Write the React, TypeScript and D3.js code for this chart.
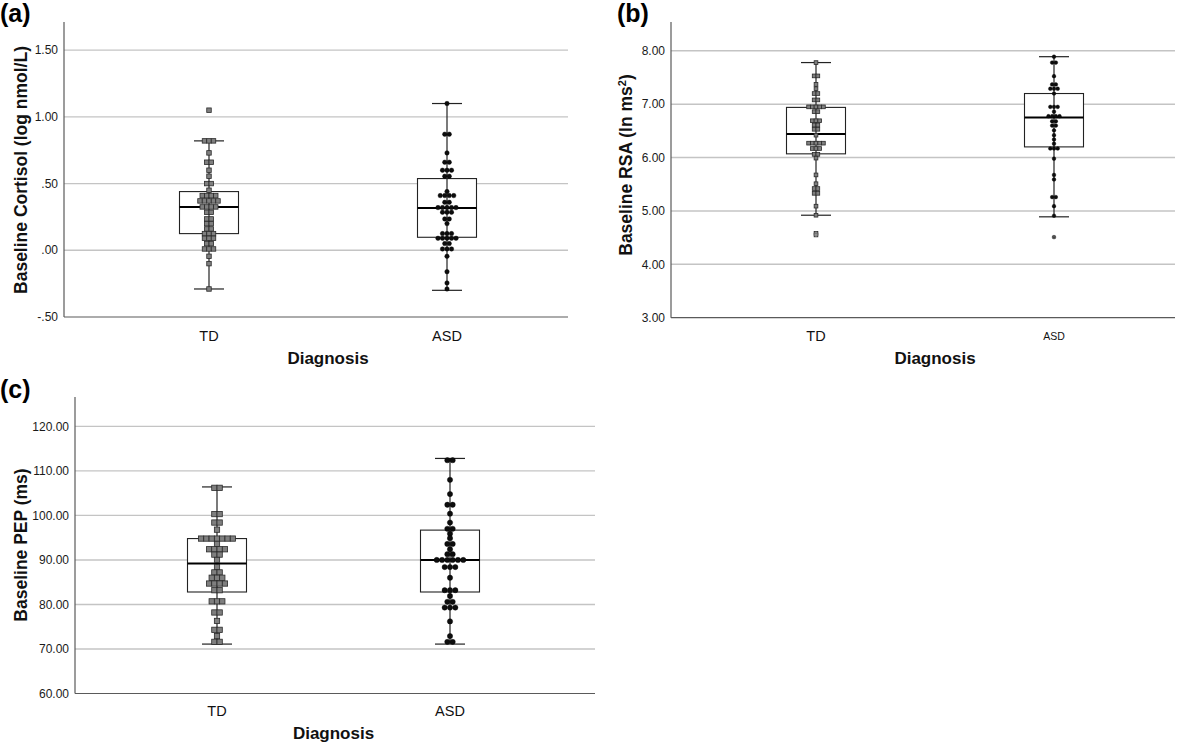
import React from "react";
import * as d3 from "d3";

const categories = ["TD", "ASD"];

// ---- Panel (a): Baseline cortisol ----
const cortisolTD = [
  1.05, 0.82, 0.82, 0.82, 0.73, 0.66, 0.66, 0.6, 0.555, 0.5, 0.5, 0.45,
  0.41, 0.41, 0.41, 0.41, 0.37, 0.37, 0.37, 0.37, 0.37, 0.325, 0.325, 0.325, 0.325,
  0.285, 0.285, 0.235, 0.235, 0.2, 0.2, 0.16, 0.16, 0.125, 0.125, 0.125,
  0.09, 0.09, 0.09, 0.05, 0.05, 0.01, 0.01, 0.01, -0.045, -0.1, -0.29,
];
const cortisolASD = [
  1.1, 0.87, 0.87, 0.73, 0.66, 0.66, 0.6, 0.6, 0.6, 0.555, 0.555, 0.44,
  0.41, 0.41, 0.41, 0.41, 0.36, 0.36, 0.32, 0.32, 0.32, 0.32, 0.32,
  0.285, 0.285, 0.285, 0.235, 0.235, 0.2, 0.125, 0.125, 0.125,
  0.09, 0.09, 0.09, 0.09, 0.09, 0.05, 0.05, 0.01, 0.01, 0.01, -0.045, -0.16, -0.245, -0.29,
];
// [low whisker, Q1, median, Q3, high whisker]
const cortisolBoxTD = [-0.29, 0.125, 0.325, 0.44, 0.82];
const cortisolBoxASD = [-0.3, 0.0975, 0.3175, 0.5375, 1.1];
const cortisolTicks = [-0.5, 0, 0.5, 1.0, 1.5];
const cortisolTickLabels = ["-.50", ".00", ".50", "1.00", "1.50"];

// ---- Panel (b): Baseline RSA ----
const rsaTD = [
  7.78, 7.53, 7.53, 7.37, 7.29, 7.2, 7.2, 7.08, 7.08, 6.95, 6.95, 6.95, 6.95, 6.95,
  6.86, 6.86, 6.69, 6.69, 6.69, 6.61, 6.61, 6.53, 6.53, 6.42,
  6.27, 6.27, 6.27, 6.27, 6.27, 6.17, 6.17, 6.17, 6.06, 6.06, 5.99,
  5.675, 5.51, 5.42, 5.42, 5.33, 5.33, 5.09, 4.92, 4.58, 4.55,
];
const rsaASD = [
  7.89, 7.78, 7.78, 7.525, 7.37, 7.37, 7.29, 7.29, 7.29, 7.2, 6.95, 6.95, 6.95, 6.86,
  6.775, 6.775, 6.775, 6.775, 6.68, 6.68, 6.6, 6.6, 6.51, 6.42, 6.34, 6.26,
  6.17, 6.17, 6.17, 5.98, 5.675, 5.59, 5.26, 5.26, 5.09, 4.91, 4.51,
];
const rsaBoxTD = [4.92, 6.07, 6.44, 6.94, 7.78];
const rsaBoxASD = [4.89, 6.2, 6.75, 7.2, 7.89];
const rsaTicks = [3, 4, 5, 6, 7, 8];
const rsaTickLabels = ["3.00", "4.00", "5.00", "6.00", "7.00", "8.00"];

// ---- Panel (c): Baseline PEP ----
const pepTD = [
  106.2, 106.2, 100.3, 100.3, 98.4, 98.4, 96.8,
  94.8, 94.8, 94.8, 94.8, 94.8, 94.8, 94.8, 93.6, 92.4, 92.4, 92.4, 92.4,
  91.2, 91.2, 90.0, 88.4, 87.2, 87.2, 86.0, 86.0, 86.0, 84.7, 84.7, 84.7, 84.7,
  83.2, 83.2, 80.7, 80.7, 80.7, 78.2, 78.2, 76.3, 74.3, 74.3, 72.9, 71.6, 71.6,
];
const pepASD = [
  112.4, 112.4, 108.0, 104.8, 102.4, 102.4, 100.4, 98.4, 97.0, 97.0, 95.9, 94.9,
  93.6, 93.6, 92.4, 91.3, 91.3, 90.0, 90.0, 90.0, 90.0, 90.0, 90.0, 88.4, 88.4, 88.4,
  86.0, 83.2, 83.2, 83.2, 81.9, 80.6, 80.6, 79.3, 79.3, 79.3, 76.2, 72.9, 71.6, 71.6,
];
const pepBoxTD = [71.1, 82.8, 89.2, 94.8, 106.4];
const pepBoxASD = [71.1, 82.8, 90.0, 96.7, 112.8];
const pepTicks = [60, 70, 80, 90, 100, 110, 120];
const pepTickLabels = ["60.00", "70.00", "80.00", "90.00", "100.00", "110.00", "120.00"];

const FONT = "'Liberation Sans', Arial, sans-serif";

type PanelProps = {
  letter: string;
  letterX: number;
  letterY: number;
  x0: number;
  x1: number;
  catRange: [number, number];
  yTop: number;
  yBottom: number;
  domain: [number, number];
  ticks: number[];
  tickLabels: string[];
  title: React.ReactNode;
  titleX: number;
  titleY: number;
  tdVals: number[];
  asdVals: number[];
  boxTD: number[];
  boxASD: number[];
  mark: number;
  catY: number;
  diagY: number;
  asdFont: number;
  ringOutliers?: boolean;
};

function layoutDots(vals: number[], cx: number, step: number) {
  const groups = d3.groups(vals, (v) => v);
  const out: { x: number; v: number }[] = [];
  groups.forEach(([v, arr]) => {
    const n = arr.length;
    arr.forEach((_, i) => out.push({ x: cx + (i - (n - 1) / 2) * step, v }));
  });
  return out;
}

function Panel(p: PanelProps) {
  const x = d3.scalePoint<string>().domain(categories).range(p.catRange);
  const y = d3.scaleLinear().domain(p.domain).range([p.yBottom, p.yTop]);
  const boxW = 59;
  const capW = 30;
  const groups = [
    { cat: "TD", vals: p.tdVals, box: p.boxTD, shape: "square" },
    { cat: "ASD", vals: p.asdVals, box: p.boxASD, shape: "circle" },
  ];
  return (
    <g>
      <text x={p.letterX} y={p.letterY} fontFamily={FONT} fontWeight="bold" fontSize={25} fill="#000">
        {p.letter}
      </text>
      {p.ticks.map((t, i) =>
        i === 0 ? null : (
          <line key={"g" + t} x1={p.x0} x2={p.x1} y1={y(t)} y2={y(t)} stroke="#c4c4c4" strokeWidth={1.4} />
        )
      )}
      {p.ticks.map((t, i) => (
        <text
          key={"t" + t}
          x={p.x0 - 6}
          y={y(t)}
          dy="0.35em"
          textAnchor="end"
          fontFamily={FONT}
          fontSize={12}
          fill="#1a1a1a"
        >
          {p.tickLabels[i]}
        </text>
      ))}
      <line x1={p.x0} x2={p.x0} y1={p.yTop} y2={p.yBottom} stroke="#5a5a5a" strokeWidth={1.2} />
      <line x1={p.x0} x2={p.x1} y1={p.yBottom} y2={p.yBottom} stroke="#5a5a5a" strokeWidth={1.2} />
      <text
        transform={`translate(${p.titleX},${p.titleY}) rotate(-90)`}
        textAnchor="middle"
        fontFamily={FONT}
        fontWeight="bold"
        fontSize={17.5}
        fill="#111"
      >
        {p.title}
      </text>
      {groups.map((g) => {
        const cx = x(g.cat) as number;
        const [lo, q1, med, q3, hi] = g.box;
        const dots = layoutDots(g.vals, cx, p.mark);
        return (
          <g key={g.cat}>
            <rect x={cx - boxW / 2} y={y(q3)} width={boxW} height={y(q1) - y(q3)} fill="#fff" stroke="#222" strokeWidth={1.1} />
            <line x1={cx} x2={cx} y1={y(lo)} y2={y(hi)} stroke="#222" strokeWidth={1.2} />
            <line x1={cx - capW / 2} x2={cx + capW / 2} y1={y(lo)} y2={y(lo)} stroke="#222" strokeWidth={1.2} />
            <line x1={cx - capW / 2} x2={cx + capW / 2} y1={y(hi)} y2={y(hi)} stroke="#222" strokeWidth={1.2} />
            <line x1={cx - boxW / 2} x2={cx + boxW / 2} y1={y(med)} y2={y(med)} stroke="#000" strokeWidth={2} />
            {dots.map((d, i) =>
              g.shape === "square" ? (
                <rect
                  key={i}
                  x={d.x - p.mark / 2}
                  y={y(d.v) - p.mark / 2}
                  width={p.mark}
                  height={p.mark}
                  fill="#7f7f7f"
                  stroke="#2a2a2a"
                  strokeWidth={0.8}
                />
              ) : (
                <circle key={i} cx={d.x} cy={y(d.v)} r={p.mark / 2} fill="#0d0d0d" stroke="#000" strokeWidth={0.4} />
              )
            )}
            {p.ringOutliers &&
              dots
                .filter((d) => d.v < lo || d.v > hi)
                .map((d, i) => (
                  <circle key={"o" + i} cx={d.x} cy={y(d.v)} r={p.mark / 2 - 0.6} fill="none" stroke="#9a9a9a" strokeWidth={0.7} />
                ))}
            <text
              x={cx}
              y={p.catY}
              dy="0.35em"
              textAnchor="middle"
              fontFamily={FONT}
              fontSize={g.cat === "ASD" ? p.asdFont : 14.5}
              fill="#111"
            >
              {g.cat}
            </text>
          </g>
        );
      })}
      <text
        x={((x("TD") as number) + (x("ASD") as number)) / 2}
        y={p.diagY}
        dy="0.35em"
        textAnchor="middle"
        fontFamily={FONT}
        fontWeight="bold"
        fontSize={17}
        fill="#111"
      >
        Diagnosis
      </text>
    </g>
  );
}

export default function App() {
  return (
    <svg width={1200} height={743} style={{ position: "absolute", left: 0, top: 0, background: "#fff" }}>
      <rect width={1200} height={743} fill="#fff" />
      <Panel
        letter="(a)"
        letterX={0}
        letterY={22}
        x0={64}
        x1={568}
        catRange={[209, 447]}
        yTop={22}
        yBottom={317}
        domain={[-0.5, 1.711]}
        ticks={cortisolTicks}
        tickLabels={cortisolTickLabels}
        title="Baseline Cortisol (log nmol/L)"
        titleX={27}
        titleY={170}
        tdVals={cortisolTD}
        asdVals={cortisolASD}
        boxTD={cortisolBoxTD}
        boxASD={cortisolBoxASD}
        mark={4.5}
        catY={336}
        diagY={358}
        asdFont={14.5}
      />
      <Panel
        letter="(b)"
        letterX={617}
        letterY={22}
        x0={671}
        x1={1175}
        catRange={[816, 1054]}
        yTop={22}
        yBottom={317.7}
        domain={[3, 8.54]}
        ticks={rsaTicks}
        tickLabels={rsaTickLabels}
        title={
          <>
            Baseline RSA (ln ms<tspan dy={-6} fontSize={11}>2</tspan>
            <tspan dy={6}>)</tspan>
          </>
        }
        titleX={632}
        titleY={165}
        tdVals={rsaTD}
        asdVals={rsaASD}
        boxTD={rsaBoxTD}
        boxASD={rsaBoxASD}
        mark={3.7}
        catY={336}
        diagY={358}
        asdFont={10.5}
        ringOutliers
      />
      <Panel
        letter="(c)"
        letterX={0}
        letterY={398}
        x0={75}
        x1={595}
        catRange={[217, 450]}
        yTop={397}
        yBottom={693.5}
        domain={[60, 126.6]}
        ticks={pepTicks}
        tickLabels={pepTickLabels}
        title="Baseline PEP (ms)"
        titleX={27}
        titleY={545}
        tdVals={pepTD}
        asdVals={pepASD}
        boxTD={pepBoxTD}
        boxASD={pepBoxASD}
        mark={5.3}
        catY={711}
        diagY={733}
        asdFont={14.5}
      />
    </svg>
  );
}
